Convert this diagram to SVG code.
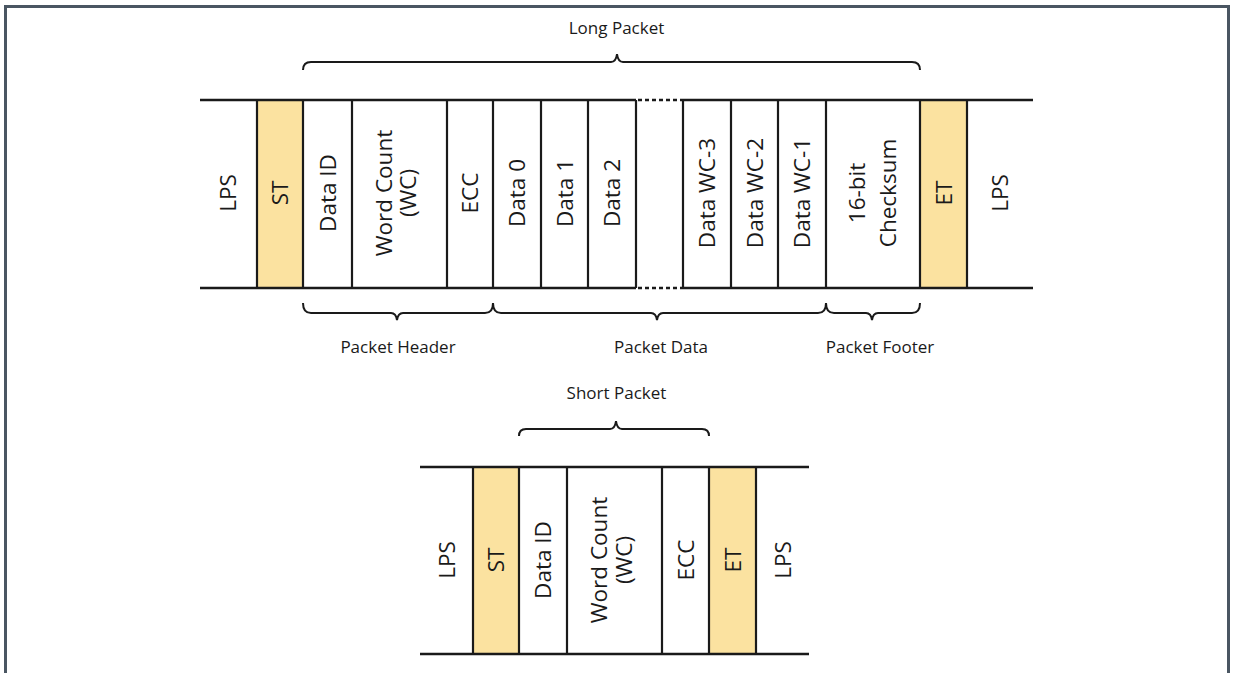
<svg xmlns="http://www.w3.org/2000/svg" width="1235" height="673" viewBox="0 0 1235 673">
<style>
.t{font-family:"Open Sans","Liberation Sans",sans-serif;fill:#1a1a1a}
.h{font-size:17px;text-anchor:middle}
.r{font-size:22.5px;text-anchor:middle}
.ln{stroke:#1a1a1a;stroke-width:2.5;fill:none}
.vl{stroke:#1a1a1a;stroke-width:2.2;fill:none}
.dot{stroke:#1a1a1a;stroke-width:2.5;stroke-dasharray:4 3;fill:none}
.br{stroke:#1a1a1a;stroke-width:2;fill:none}
.y{fill:#FBE2A0}
</style>
<rect width="1235" height="673" fill="#fff"/>
<path d="M5.5,673 V6.5 H1228.5 V673" fill="none" stroke="#4A5662" stroke-width="3"/>

<g id="long-packet">
  <rect class="y" x="257" y="100" width="46" height="188"/>
  <rect class="y" x="920" y="100" width="47" height="188"/>
  <g id="long-lines">
    <path class="ln" d="M200,100 H636 M683,100 H1033 M200,288 H636 M683,288 H1033"/>
    <path class="dot" d="M638,100 H683 M638,288 H683"/>
    <path class="vl" d="M257,100 V288 M303,100 V288 M352,100 V288 M447,100 V288 M493,100 V288 M541,100 V288 M588,100 V288 M636,100 V288 M683,100 V288 M731,100 V288 M778,100 V288 M826,100 V288 M920,100 V288 M967,100 V288"/>
  </g>
  <g id="l-lps1"><text class="t r" transform="translate(236,193) rotate(-90)">LPS</text></g>
  <g id="l-st"><text class="t r" transform="translate(288,193) rotate(-90)">ST</text></g>
  <g id="l-dataid"><text class="t r" transform="translate(335.5,193) rotate(-90)">Data ID</text></g>
  <g id="l-wc"><text class="t r" transform="translate(391.5,193) rotate(-90)">Word Count</text><text class="t r" transform="translate(416,193) rotate(-90)">(WC)</text></g>
  <g id="l-ecc"><text class="t r" transform="translate(478,193) rotate(-90)">ECC</text></g>
  <g id="l-d0"><text class="t r" transform="translate(525,193) rotate(-90)">Data 0</text></g>
  <g id="l-d1"><text class="t r" transform="translate(572.5,193) rotate(-90)">Data 1</text></g>
  <g id="l-d2"><text class="t r" transform="translate(620,193) rotate(-90)">Data 2</text></g>
  <g id="l-dwc3"><text class="t r" transform="translate(715,193) rotate(-90)">Data WC-3</text></g>
  <g id="l-dwc2"><text class="t r" transform="translate(762.5,193) rotate(-90)">Data WC-2</text></g>
  <g id="l-dwc1"><text class="t r" transform="translate(810,193) rotate(-90)">Data WC-1</text></g>
  <g id="l-cs"><text class="t r" transform="translate(865,193) rotate(-90)">16-bit</text><text class="t r" transform="translate(896,193) rotate(-90)">Checksum</text></g>
  <g id="l-et"><text class="t r" transform="translate(951.5,193) rotate(-90)">ET</text></g>
  <g id="l-lps2"><text class="t r" transform="translate(1008,193) rotate(-90)">LPS</text></g>
</g>

<g id="braces">
  <path class="br" d="M303,70 Q303,62 311,62 L611,62 Q616,62 617,54 Q618,62 623,62 L912,62 Q920,62 920,70"/>
  <path class="br" d="M303,303 Q303,313 311,313 L391,313 Q396,313 397,320 Q398,313 403,313 L485,313 Q493,313 493,303"/>
  <path class="br" d="M493,303 Q493,313 501,313 L651,313 Q656,313 657,320 Q658,313 663,313 L818,313 Q826,313 826,303"/>
  <path class="br" d="M826,303 Q826,313 834,313 L866,313 Q871,313 872,320 Q873,313 878,313 L912,313 Q920,313 920,303"/>
  <path class="br" d="M519,436 Q519,429 526,429 L610,429 Q615,429 616,421 Q617,429 622,429 L702,429 Q709,429 709,436"/>
</g>

<g id="labels">
  <text class="t h" x="616.5" y="34">Long Packet</text>
  <text class="t h" x="398" y="353">Packet Header</text>
  <text class="t h" x="661" y="353">Packet Data</text>
  <text class="t h" x="880" y="353">Packet Footer</text>
  <text class="t h" x="616.5" y="399">Short Packet</text>
</g>

<g id="short-packet">
  <rect class="y" x="473" y="467" width="46" height="187"/>
  <rect class="y" x="709" y="467" width="47" height="187"/>
  <g id="short-lines">
    <path class="ln" d="M420,467 H809 M420,654 H809"/>
    <path class="vl" d="M473,467 V654 M519,467 V654 M567,467 V654 M662,467 V654 M709,467 V654 M756,467 V654"/>
  </g>
  <g id="s-lps1"><text class="t r" transform="translate(454.5,560) rotate(-90)">LPS</text></g>
  <g id="s-st"><text class="t r" transform="translate(504,560) rotate(-90)">ST</text></g>
  <g id="s-dataid"><text class="t r" transform="translate(551,560) rotate(-90)">Data ID</text></g>
  <g id="s-wc"><text class="t r" transform="translate(607,560) rotate(-90)">Word Count</text><text class="t r" transform="translate(631.5,560) rotate(-90)">(WC)</text></g>
  <g id="s-ecc"><text class="t r" transform="translate(693.5,560) rotate(-90)">ECC</text></g>
  <g id="s-et"><text class="t r" transform="translate(740.5,560) rotate(-90)">ET</text></g>
  <g id="s-lps2"><text class="t r" transform="translate(790.5,560) rotate(-90)">LPS</text></g>
</g>
</svg>
